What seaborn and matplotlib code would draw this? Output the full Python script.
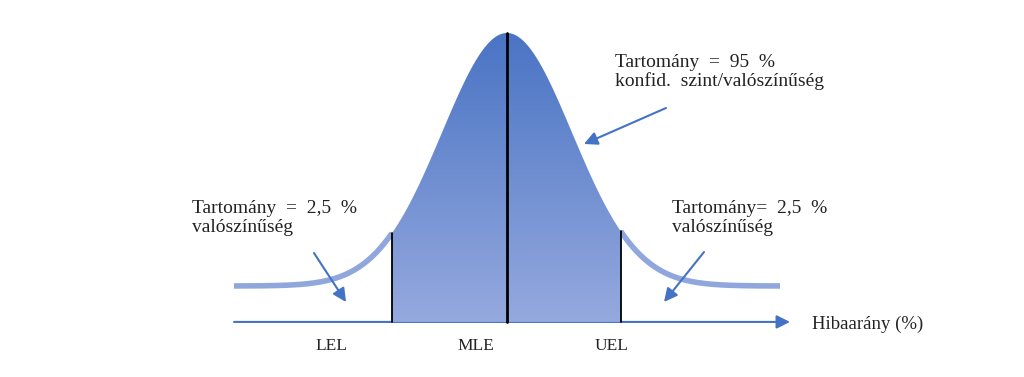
import numpy as np
import pandas as pd
import matplotlib
matplotlib.use("Agg")
import matplotlib.pyplot as plt
import seaborn as sns
from matplotlib.path import Path
from matplotlib.patches import PathPatch
from matplotlib.colors import LinearSegmentedColormap

# ---- data (z-score units, curve height normalised to 1 at the peak) ----
mean = 0.0
sigma = 1.0
lel = -1.77
uel = 1.75
tail_limit = 4.2
baseline = -0.142
limit_labels = ["LEL", "MLE", "UEL"]
limit_positions = [lel, mean, uel]
limit_widths = [1.3, 2.0, 1.3]
axis_label = "Hibaarány (%)"
ann_left = "Tartomány  =  2,5  %\nvalószínűség"
ann_right = "Tartomány=  2,5  %\nvalószínűség"
ann_top = "Tartomány  =  95  %\nkonfid.  szint/valószínűség"

def curve(x):
    return np.exp(-0.5 * ((x - mean) / sigma) ** 2)

sns.set_theme(style="white")
plt.rcParams['font.family'] = ['Liberation Serif', 'DejaVu Serif']

fig = plt.figure(figsize=(10.24, 3.77), dpi=100)
ax = fig.add_axes([0, 0, 1, 1])
px = 65.0  # pixels per unit x
py = 253.0  # pixels per unit y
ax.set_xlim((0 - 507) / px, (1024 - 507) / px)
ax.set_ylim(-(377 - 286) / py, 286 / py)
ax.axis("off")

def pix(x, y):
    return ((x - 507) / px, (286 - y) / py)

# tails
line_col = "#8fa7dd"
xl = np.linspace(-tail_limit, lel, 200)
xr = np.linspace(uel, tail_limit, 200)
df_l = pd.DataFrame({"x": xl, "y": curve(xl)})
df_r = pd.DataFrame({"x": xr, "y": curve(xr)})
sns.lineplot(data=df_l, x="x", y="y", ax=ax, color=line_col, lw=4, solid_capstyle="butt")
sns.lineplot(data=df_r, x="x", y="y", ax=ax, color=line_col, lw=4, solid_capstyle="butt")

# gradient-filled central region
xc = np.linspace(lel, uel, 400)
yc = curve(xc)
verts = np.vstack([np.column_stack([xc, yc]),
                   [[uel, baseline], [lel, baseline], [lel, curve(lel)]]])
codes = [Path.MOVETO] + [Path.LINETO] * (len(verts) - 2) + [Path.CLOSEPOLY]
path = Path(verts, codes)
patch = PathPatch(path, facecolor="none", edgecolor="none")
ax.add_patch(patch)
cmap = LinearSegmentedColormap.from_list("g", ["#95a9de", "#4a74c4"])
grad = np.linspace(0, 1, 256).reshape(-1, 1)
im = ax.imshow(grad, extent=[lel, uel, baseline, 1.0], origin="lower",
               cmap=cmap, aspect="auto", zorder=2)
im.set_clip_path(patch)

# vertical lines
for pos, w in zip(limit_positions, limit_widths):
    ax.plot([pos, pos], [baseline, curve(pos)], color="black", lw=w, zorder=3)

# baseline arrow
ax.annotate("", xy=((790 - 507) / px, baseline), xytext=(-tail_limit, baseline),
            arrowprops=dict(arrowstyle="-|>", color="#4472c4", lw=1.5,
                            mutation_scale=20, shrinkA=0, shrinkB=0), zorder=1)
ax.text(*pix(812, 324), axis_label, ha="left", va="center",
        fontsize=13.5, color="#222222")

# limit labels
label_px = [315, 457, 595]
for lx, t in zip(label_px, limit_labels):
    ax.text(*pix(lx, 346), t, ha="left", va="center", fontsize=12.5, color="#222222")

# annotations
arr_col = "#4472c4"
for (x0, y0), (x1, y1) in [((314, 253), (346, 302)), ((704, 252), (664, 302)), ((666, 108), (584, 144))]:
    ax.annotate("", xy=pix(x1, y1), xytext=pix(x0, y0),
                arrowprops=dict(arrowstyle="-|>", color=arr_col, lw=1.5,
                                mutation_scale=20, shrinkA=0, shrinkB=0))

ax.text(*pix(192, 218), ann_left, ha="left", va="center", fontsize=14,
        color="#222222", linespacing=1.15)
ax.text(*pix(672, 218), ann_right, ha="left", va="center", fontsize=14,
        color="#222222", linespacing=1.15)
ax.text(*pix(615, 72), ann_top, ha="left", va="center", fontsize=14,
        color="#222222", linespacing=1.15)

fig.savefig("out.png", dpi=100)
